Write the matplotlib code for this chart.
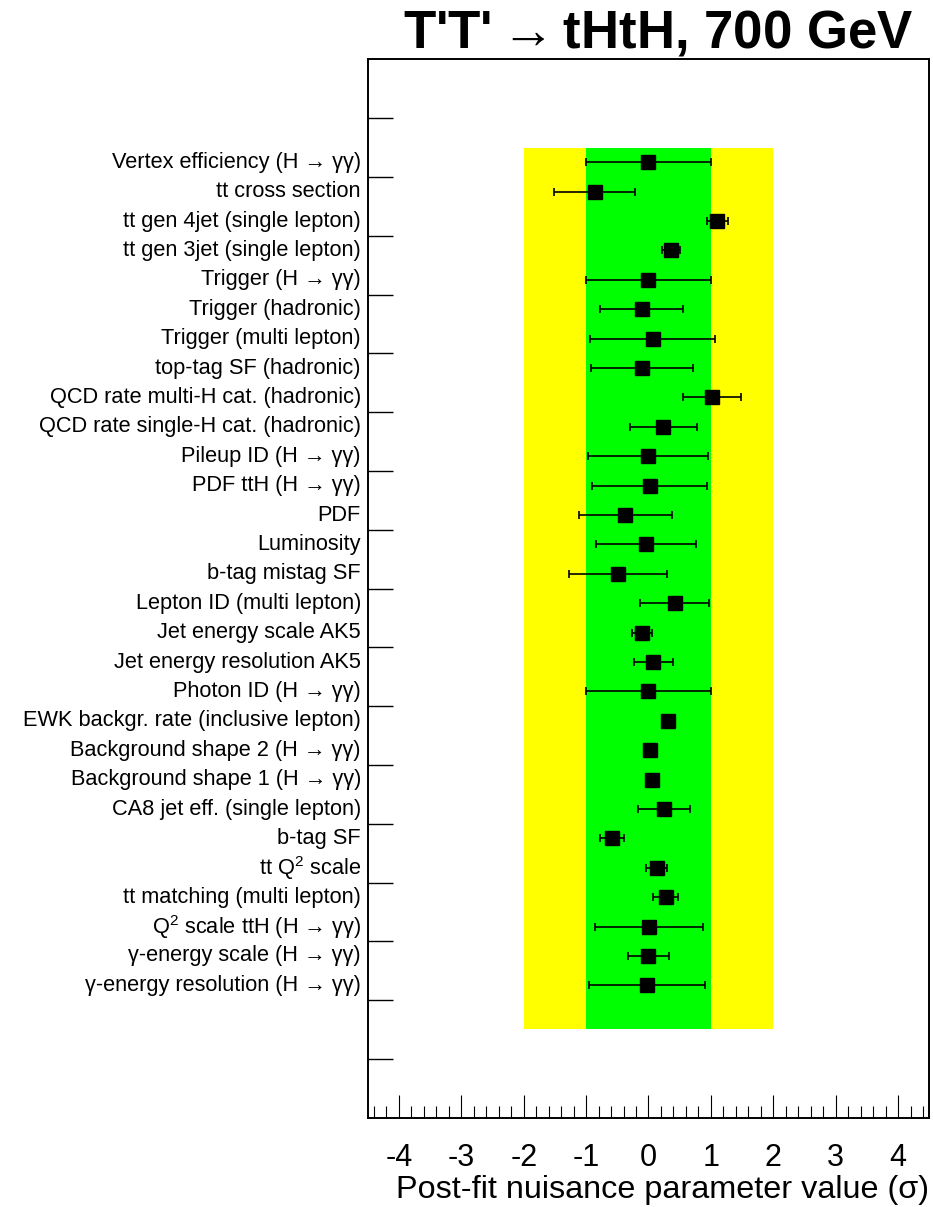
import numpy as np
import matplotlib
matplotlib.use("Agg")
import matplotlib.pyplot as plt
from matplotlib.ticker import MultipleLocator
import matplotlib.transforms as mtransforms

plt.rcParams["font.family"] = ["Liberation Sans", "DejaVu Sans"]
plt.rcParams["mathtext.fontset"] = "custom"
plt.rcParams["mathtext.rm"] = "Liberation Sans"
plt.rcParams["mathtext.it"] = "Liberation Sans:italic"
plt.rcParams["mathtext.bf"] = "Liberation Sans:bold"
plt.rcParams["mathtext.default"] = "regular"
plt.rcParams["axes.unicode_minus"] = False

# nuisance parameters, top to bottom
names = [
    "Vertex efficiency (H \u2192 \u03b3\u03b3)",
    "tt cross section",
    "tt gen 4jet (single lepton)",
    "tt gen 3jet (single lepton)",
    "Trigger (H \u2192 \u03b3\u03b3)",
    "Trigger (hadronic)",
    "Trigger (multi lepton)",
    "top-tag SF (hadronic)",
    "QCD rate multi-H cat. (hadronic)",
    "QCD rate single-H cat. (hadronic)",
    "Pileup ID (H \u2192 \u03b3\u03b3)",
    "PDF ttH (H \u2192 \u03b3\u03b3)",
    "PDF",
    "Luminosity",
    "b-tag mistag SF",
    "Lepton ID (multi lepton)",
    "Jet energy scale AK5",
    "Jet energy resolution AK5",
    "Photon ID (H \u2192 \u03b3\u03b3)",
    "EWK backgr. rate (inclusive lepton)",
    "Background shape 2 (H \u2192 \u03b3\u03b3)",
    "Background shape 1 (H \u2192 \u03b3\u03b3)",
    "CA8 jet eff. (single lepton)",
    "b-tag SF",
    "tt Q$^2$ scale",
    "tt matching (multi lepton)",
    "Q$^2$ scale ttH (H \u2192 \u03b3\u03b3)",
    "\u03b3-energy scale (H \u2192 \u03b3\u03b3)",
    "\u03b3-energy resolution (H \u2192 \u03b3\u03b3)",
]
pulls = [0.00, -0.86, 1.10, 0.36, 0.00, -0.11, 0.07, -0.10, 1.02, 0.24,
         -0.01, 0.02, -0.37, -0.04, -0.49, 0.42, -0.10, 0.08, 0.00, 0.31,
         0.03, 0.05, 0.25, -0.58, 0.13, 0.28, 0.01, 0.00, -0.03]
errs = [1.00, 0.65, 0.17, 0.15, 1.00, 0.66, 1.00, 0.82, 0.46, 0.54,
        0.96, 0.92, 0.75, 0.80, 0.79, 0.55, 0.16, 0.31, 1.00, 0.0,
        0.0, 0.0, 0.41, 0.195, 0.17, 0.20, 0.865, 0.33, 0.93]

n = len(names)
ypos = n + 0.5 - np.arange(n)  # 29.5 ... 1.5

fig = plt.figure(figsize=(9.33, 12.07), dpi=100)
ax = fig.add_axes([0.3941, 0.0740, 0.6019, 0.8768])

ax.fill_betweenx([0, 30], -2, 2, color="#ffff00", lw=0, zorder=1)
ax.fill_betweenx([0, 30], -1, 1, color="#00ff00", lw=0, zorder=2)

for p, e, y in zip(pulls, errs, ypos):
    if e > 0:
        ax.errorbar(p, y, xerr=e, fmt="none", ecolor="black", elinewidth=1.2,
                    capsize=3, capthick=1.2, zorder=3)
ax.plot(pulls, ypos, "s", color="black", markersize=9.6, zorder=4)

ax.set_xlim(-4.5, 4.5)
ax.set_ylim(-3, 33)

ax.xaxis.set_major_locator(MultipleLocator(1))
ax.xaxis.set_minor_locator(MultipleLocator(0.2))
ax.set_yticks(np.arange(-1, 32, 2))
ax.set_yticklabels([])
ax.tick_params(axis="x", which="major", direction="in", length=16.5, width=0.8,
               labelsize=22, pad=18, top=False)
ax.tick_params(axis="x", which="minor", direction="in", length=8.5, width=0.8,
               top=False)
ax.tick_params(axis="y", which="major", direction="in", length=18, width=1.0,
               right=False)
for sp in ax.spines.values():
    sp.set_linewidth(1.4)

ax.set_xlabel("Post-fit nuisance parameter value (\u03c3)", fontsize=23.3,
              loc="right", labelpad=2)

trans = mtransforms.blended_transform_factory(ax.transAxes, ax.transData)
for name, y in zip(names, ypos):
    ax.text(-0.012, y, name, transform=trans, ha="right", va="center",
            fontsize=15.7)

fig.text(0.705, 0.961, "T'T'$\\rightarrow$tHtH, 700 GeV", ha="center",
         va="baseline", fontsize=38, fontweight="bold")

fig.savefig("out.png", dpi=100)
